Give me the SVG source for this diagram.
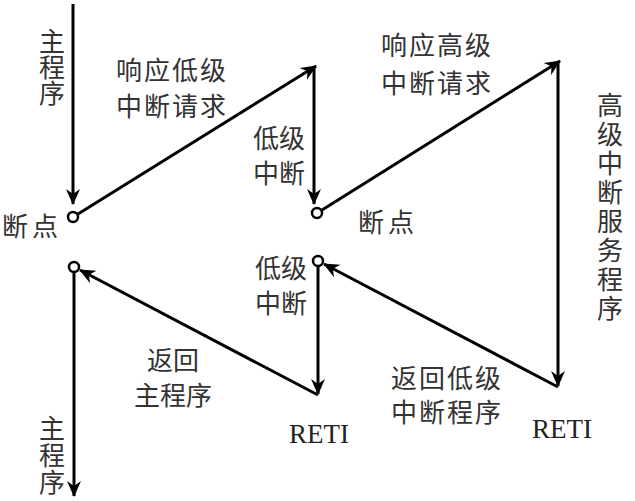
<svg xmlns="http://www.w3.org/2000/svg" width="635" height="501" viewBox="0 0 635 501">
  <defs>
    <marker id="arr" viewBox="-16 -8 18 16" markerWidth="18" markerHeight="16" refX="0" refY="0" orient="auto" markerUnits="userSpaceOnUse">
      <path d="M1,0 L-15,-7 L-10,0 L-15,7 Z" fill="#000"/>
    </marker>
    <style>
      .ln { stroke: #000; stroke-width: 3; fill: none; }
      .bp { stroke: #000; stroke-width: 2.5; fill: #fff; }
      .cj { font-family: "Noto Sans CJK SC", "Noto Sans", sans-serif; font-size: 26px; fill: #333; text-anchor: middle; dominant-baseline: central; }
      .vt { font-family: "Noto Sans CJK SC", "Noto Sans", sans-serif; font-size: 26px; fill: #333; writing-mode: vertical-rl; text-anchor: start; }
      .rt { font-family: "Liberation Serif", "Times New Roman", serif; font-size: 27px; fill: #222; text-anchor: middle; }
    </style>
  </defs>
  <rect width="635" height="501" fill="#fff"/>

  <g id="connectors">
    <line class="ln" x1="73" y1="4" x2="73" y2="204" marker-end="url(#arr)"/>
    <line class="ln" x1="78" y1="214" x2="316" y2="66" marker-end="url(#arr)"/>
    <line class="ln" x1="314" y1="66" x2="314" y2="204" marker-end="url(#arr)"/>
    <line class="ln" x1="322" y1="210" x2="560" y2="61" marker-end="url(#arr)"/>
    <line class="ln" x1="558" y1="61" x2="558" y2="386" marker-end="url(#arr)"/>
    <line class="ln" x1="558" y1="387" x2="324" y2="264" marker-end="url(#arr)"/>
    <line class="ln" x1="318" y1="266" x2="318" y2="394" marker-end="url(#arr)"/>
    <line class="ln" x1="318" y1="395" x2="80" y2="270" marker-end="url(#arr)"/>
    <line class="ln" x1="74" y1="272" x2="74" y2="496" marker-end="url(#arr)"/>
  </g>

  <g id="bp1"><circle class="bp" cx="73" cy="217" r="5"/><text class="cj" x="32" y="224" letter-spacing="4">断点</text></g>
  <g id="bp2"><circle class="bp" cx="317" cy="213" r="5"/><text class="cj" x="388" y="220" letter-spacing="4">断点</text></g>
  <g id="bp3"><circle class="bp" cx="318" cy="261" r="5"/></g>
  <g id="bp4"><circle class="bp" cx="74" cy="267" r="5"/></g>

  <g id="main-top">
    <text class="vt" x="52" y="28">主程序</text>
  </g>
  <g id="resp-low">
    <text class="cj" x="172" y="68" letter-spacing="2">响应低级</text>
    <text class="cj" x="172" y="104" letter-spacing="2">中断请求</text>
  </g>
  <g id="low-int-top">
    <text class="cj" x="279" y="136">低级</text>
    <text class="cj" x="279" y="171">中断</text>
  </g>
  <g id="resp-high">
    <text class="cj" x="437" y="43" letter-spacing="2">响应高级</text>
    <text class="cj" x="437" y="81" letter-spacing="2">中断请求</text>
  </g>
  <g id="high-service">
    <text class="vt" x="610" y="92" letter-spacing="3">高级中断服务程序</text>
  </g>
  <g id="low-int-bottom">
    <text class="cj" x="281" y="266">低级</text>
    <text class="cj" x="281" y="301">中断</text>
  </g>
  <g id="return-main">
    <text class="cj" x="173" y="358">返回</text>
    <text class="cj" x="173" y="393">主程序</text>
  </g>
  <g id="return-low">
    <text class="cj" x="447" y="376" letter-spacing="2">返回低级</text>
    <text class="cj" x="447" y="410" letter-spacing="2">中断程序</text>
  </g>
  <g id="main-bottom">
    <text class="vt" x="52" y="415" letter-spacing="1">主程序</text>
  </g>
  <g id="reti1"><text class="rt" x="319" y="443">RETI</text></g>
  <g id="reti2"><text class="rt" x="562" y="438">RETI</text></g>
</svg>
